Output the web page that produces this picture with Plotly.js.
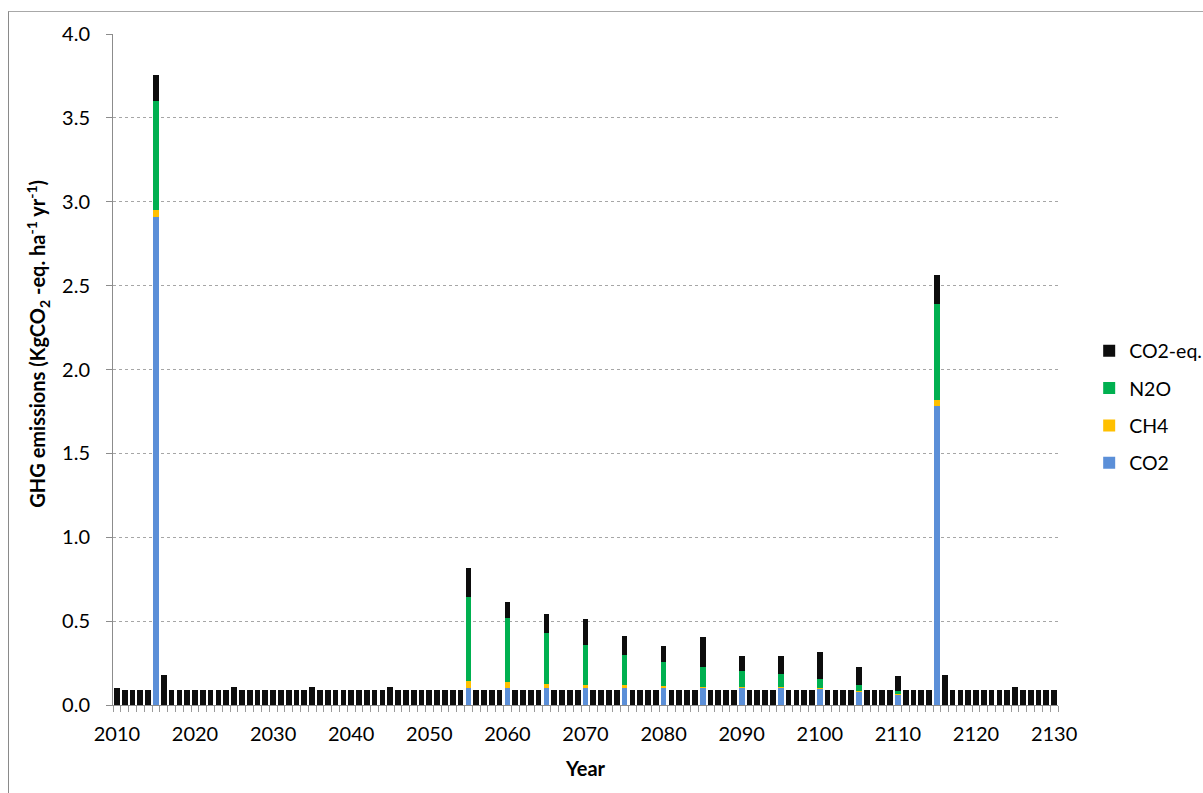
<!DOCTYPE html>
<html>
<head>
<meta charset="utf-8">
<script src="https://cdn.plot.ly/plotly-3.0.1.min.js"></script>
<style>
  html, body { margin: 0; padding: 0; background: #ffffff; }
  #chart { position: absolute; left: 0; top: 0; width: 1203px; height: 793px; }
  #frame { position: absolute; left: 8px; top: 11px; width: 1300px; height: 900px;
           border-left: 1px solid #8a8a8a; border-top: 1px solid #a8a8a8; pointer-events: none; }
</style>
</head>
<body>
<div id="chart"></div>
<div id="frame"></div>
<script>
// Annual GHG emissions per hectare, 2010-2130
const years = [];
for (let y = 2010; y <= 2130; y++) years.push(y);

// Years with a full gas breakdown (harvest and thinning years)
const gasYears = [2015, 2055, 2060, 2065, 2070, 2075, 2080, 2085, 2090, 2095, 2100, 2105, 2110, 2115];
const co2 = [2.907, 0.104, 0.104, 0.100, 0.102, 0.102, 0.102, 0.100, 0.100, 0.102, 0.094, 0.076, 0.058, 1.781];
const ch4 = [0.044, 0.042, 0.032, 0.028, 0.020, 0.016, 0.012, 0.010, 0.010, 0.008, 0.006, 0.006, 0.005, 0.040];
const n2o = [0.650, 0.495, 0.385, 0.302, 0.235, 0.183, 0.145, 0.115, 0.090, 0.072, 0.056, 0.036, 0.023, 0.568];

// CO2-eq. for every year 2010..2130
const co2eq = [
  0.104, 0.087, 0.087, 0.087, 0.087, 0.156, 0.180, 0.087, 0.087, 0.087,   // 2010-2019
  0.087, 0.087, 0.087, 0.087, 0.087, 0.105, 0.087, 0.087, 0.087, 0.087,   // 2020-2029
  0.087, 0.087, 0.087, 0.087, 0.087, 0.105, 0.087, 0.087, 0.087, 0.087,   // 2030-2039
  0.087, 0.087, 0.087, 0.087, 0.087, 0.105, 0.087, 0.087, 0.087, 0.087,   // 2040-2049
  0.087, 0.087, 0.087, 0.087, 0.087, 0.177, 0.087, 0.087, 0.087, 0.087,   // 2050-2059
  0.092, 0.087, 0.087, 0.087, 0.087, 0.111, 0.087, 0.087, 0.087, 0.087,   // 2060-2069
  0.158, 0.087, 0.087, 0.087, 0.087, 0.111, 0.087, 0.087, 0.087, 0.087,   // 2070-2079
  0.091, 0.087, 0.087, 0.087, 0.087, 0.179, 0.087, 0.087, 0.087, 0.087,   // 2080-2089
  0.091, 0.087, 0.087, 0.087, 0.087, 0.109, 0.087, 0.087, 0.087, 0.087,   // 2090-2099
  0.157, 0.087, 0.087, 0.087, 0.087, 0.110, 0.087, 0.087, 0.087, 0.087,   // 2100-2109
  0.088, 0.087, 0.087, 0.087, 0.087, 0.177, 0.180, 0.087, 0.087, 0.087,   // 2110-2119
  0.087, 0.087, 0.087, 0.087, 0.087, 0.105, 0.087, 0.087, 0.087, 0.087,   // 2120-2129
  0.087                                                                    // 2130
];

const tickYears = [2010, 2020, 2030, 2040, 2050, 2060, 2070, 2080, 2090, 2100, 2110, 2120, 2130];

const FONT = 'Lato, "Open Sans", sans-serif';
const AXIS_GREY = '#8c8c8c';

// Stack order bottom-up; legend lists the top of the stack first
function bar(name, x, y, color, group, rank) {
  return { type: 'bar', name: name, x: x, y: y, legendgroup: group, legendrank: rank,
           marker: { color: color, line: { width: 0 } }, hoverinfo: 'x+y+name' };
}

const traces = [
  bar('CO2', gasYears, co2, '#5b8fd8', 'g1', 4),
  bar('CH4', gasYears, ch4, '#ffc000', 'g2', 3),
  bar('N2O', gasYears, n2o, '#00b050', 'g3', 2),
  bar('CO2-eq.', years, co2eq, '#0d0d0d', 'g4', 1)
];

const layout = {
  width: 1203, height: 793,
  paper_bgcolor: '#ffffff', plot_bgcolor: '#ffffff',
  margin: { l: 113, r: 145, t: 34, b: 88, autoexpand: false },
  barmode: 'stack', bargap: 0.27,
  font: { family: FONT, size: 20, color: '#000000' },
  showlegend: true,
  legend: {
    x: 1.033, xanchor: 'left', xref: 'paper', y: 0.444, yanchor: 'middle',
    traceorder: 'grouped', tracegroupgap: 9,
    font: { family: FONT, size: 19.5, color: '#000000' },
    bgcolor: 'rgba(0,0,0,0)'
  },
  xaxis: {
    type: 'linear', range: [2009.5, 2130.5], fixedrange: true,
    tickmode: 'array', tickvals: tickYears, ticktext: tickYears.map(String),
    ticks: 'outside', ticklen: 6, tickcolor: 'rgba(0,0,0,0)',
    ticklabelstandoff: 5,
    showgrid: false, zeroline: false,
    showline: true, linecolor: AXIS_GREY, linewidth: 1,
    minor: { tickmode: 'linear', tick0: 2009.5, dtick: 1, ticks: 'outside', ticklen: 6,
             tickcolor: '#9a9a9a', tickwidth: 1, showgrid: false },
    tickfont: { family: FONT, size: 20, color: '#000000' }
  },
  yaxis: {
    range: [0, 4], fixedrange: true,
    tickmode: 'linear', tick0: 0, dtick: 0.5, tickformat: '.1f',
    ticks: 'outside', ticklen: 6, tickcolor: AXIS_GREY,
    ticklabelstandoff: 12,
    showgrid: true, gridcolor: '#a6a6a6', gridwidth: 1, griddash: 'dot',
    zeroline: false, showline: true, linecolor: AXIS_GREY, linewidth: 1,
    tickfont: { family: FONT, size: 20, color: '#000000' }
  },
  annotations: [
    { text: '<b>Year</b>', xref: 'paper', yref: 'paper', x: 0.5, y: -0.094,
      xanchor: 'center', yanchor: 'middle', showarrow: false,
      font: { family: FONT, size: 20, color: '#000000' } },
    { text: '<b>GHG emissions (KgCO<sub>2</sub> -eq. ha<sup>-1</sup> yr<sup>-1</sup>)</b>',
      xref: 'paper', yref: 'paper', x: -0.079, y: 0.539, textangle: -90,
      xanchor: 'center', yanchor: 'middle', showarrow: false,
      font: { family: FONT, size: 20, color: '#000000' } }
  ]
};

Plotly.newPlot('chart', traces, layout, { displayModeBar: false, staticPlot: true });
</script>
</body>
</html>
